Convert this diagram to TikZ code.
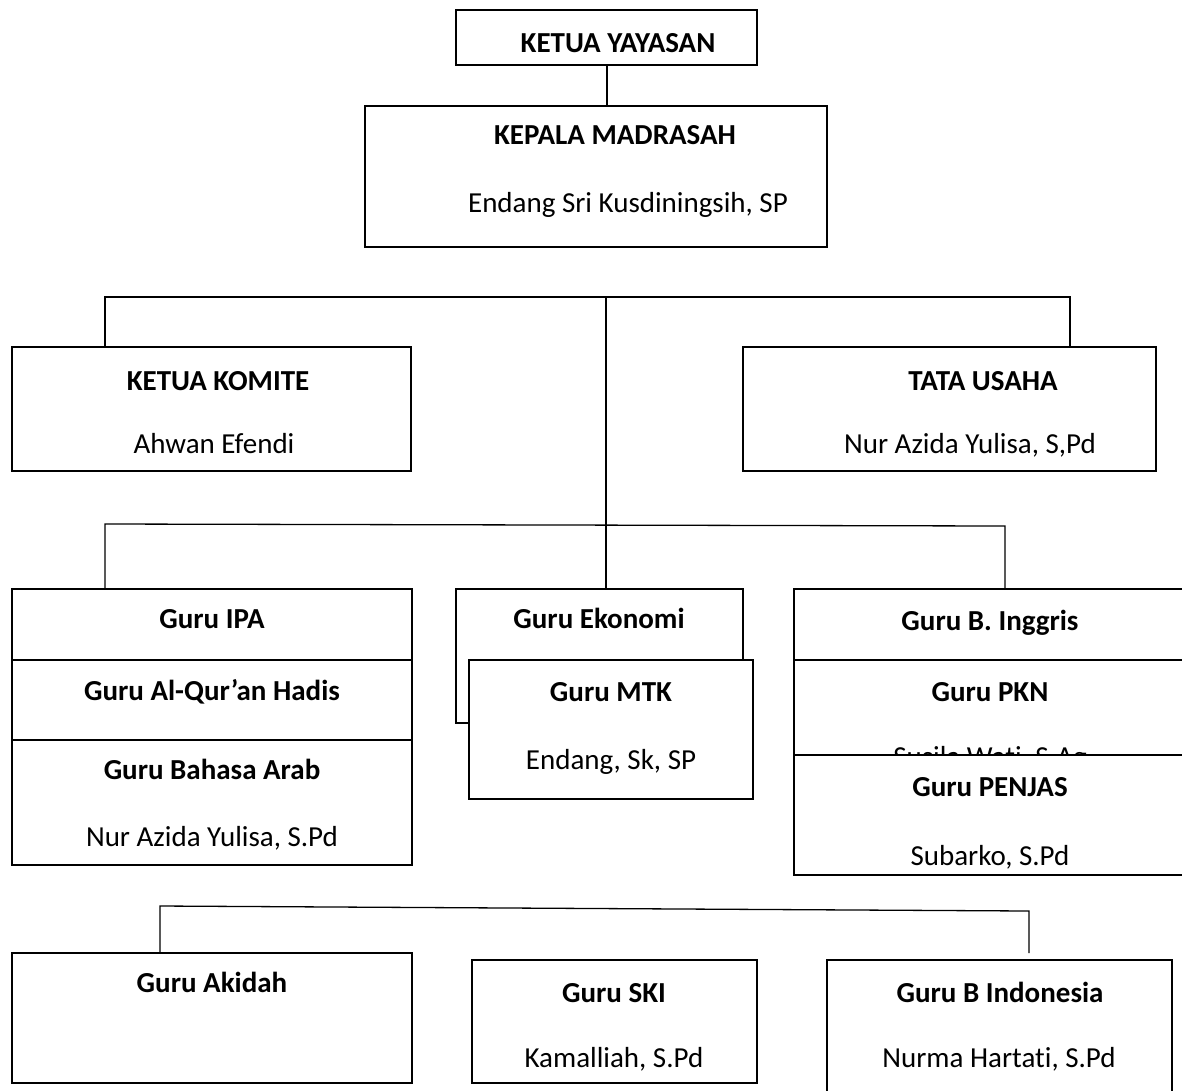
\documentclass[tikz,border=0pt]{standalone}
\usepackage{fontspec}
\setmainfont{Carlito}[Ligatures={NoCommon}]
\begin{document}
\begin{tikzpicture}[x=1pt,y=-1pt,
  box/.style={draw=black,line width=1.4pt,rectangle,inner sep=0pt,outer sep=0pt,anchor=north west},
  wbox/.style={box,fill=white},
  conn/.style={draw=black,line width=1.3pt},
  lbl/.style={anchor=base,inner sep=0pt,font=\fontsize{29}{34}\selectfont},
  tlbl/.style={lbl,font=\fontsize{29}{34}\selectfont\bfseries}]
\useasboundingbox (0,0) rectangle (1182,1090);
\newcommand\obox[6][box]{\node[#1,minimum width={(#5-#3)*1pt},minimum height={(#6-#4)*1pt}] (#2) at (#3,#4) {};}
\newcommand\otitle[4]{\node[tlbl] (#1) at (#2,#3+9) {#4};}
\newcommand\oname[4]{\node[lbl] (#1) at (#2,#3+9) {#4};}

% top
\obox{yay}{456}{10}{757}{65}
\otitle{yayT}{618}{43}{KETUA YAYASAN}
\obox{kep}{365}{106}{827}{247}
\otitle{kepT}{615}{135}{KEPALA MADRASAH}
\oname{kepN}{628}{203}{Endang Sri Kusdiningsih, SP}
\draw[conn] (yay.south -| 607,0) -- (607,0 |- kep.north);

% level 2
\obox{kom}{12}{347}{411}{471}
\otitle{komT}{218}{381}{KETUA KOMITE}
\oname{komN}{214}{444}{Ahwan Efendi}
\obox{tu}{743}{347}{1156}{471}
\otitle{tuT}{983}{381}{TATA USAHA}
\oname{tuN}{970}{444}{Nur Azida Yulisa, S,Pd}

\coordinate (b1L) at (105,297);
\coordinate (b1M) at (606,297);
\coordinate (b1R) at (1070,297);
\draw[conn] (b1L |- kom.north) -- (b1L) -- (b1R) -- (b1R |- tu.north);

% level 3
\obox{ipa}{12}{589}{412}{660}
\otitle{ipaT}{212}{619}{Guru IPA}
\obox{quran}{12}{660}{412}{740}
\otitle{quranT}{212}{691}{Guru Al-Qur’an Hadis}
\obox{arab}{12}{740}{412}{865}
\otitle{arabT}{212}{770}{Guru Bahasa Arab}
\oname{arabN}{212}{837}{Nur Azida Yulisa, S.Pd}

\obox{eko}{456}{589}{743}{723}
\otitle{ekoT}{599}{619}{Guru Ekonomi}
\obox[wbox]{mtk}{469}{660}{753}{799}
\otitle{mtkT}{611}{692}{Guru MTK}
\oname{mtkN}{611}{760}{Endang, Sk, SP}

\obox{ing}{794}{589}{1195}{660}
\otitle{ingT}{990}{621}{Guru B. Inggris}
\obox{pkn}{794}{660}{1195}{800}
\otitle{pknT}{990}{692}{Guru PKN}
\oname{pknN}{990}{757}{Susila Wati, S.Ag}
\obox[wbox]{penjas}{794}{755}{1195}{875}
\otitle{penjasT}{990}{787}{Guru PENJAS}
\oname{penjasN}{990}{856}{Subarko, S.Pd}

\coordinate (b2L) at (105,524);
\coordinate (b2R) at (1005,526);
\draw[conn] (b1M) -- (b1M |- eko.north);
\draw[conn] (b2L |- ipa.north) -- (b2L) -- (b2R) -- (b2R |- ing.north);

% level 4
\obox{aki}{12}{953}{412}{1083}
\otitle{akiT}{212}{983}{Guru Akidah}
\obox{ski}{472}{960}{757}{1083}
\otitle{skiT}{614}{993}{Guru SKI}
\oname{skiN}{614}{1058}{Kamalliah, S.Pd}
\obox{bind}{827}{960}{1172}{1100}
\otitle{bindT}{1000}{993}{Guru B Indonesia}
\oname{bindN}{999}{1058}{Nurma Hartati, S.Pd}

\coordinate (b3L) at (160,906);
\coordinate (b3R) at (1029,911);
\coordinate (b3E) at (1029,953);
\draw[conn] (b3L |- aki.north) -- (b3L) -- (b3R) -- (b3E);
\end{tikzpicture}
\end{document}
